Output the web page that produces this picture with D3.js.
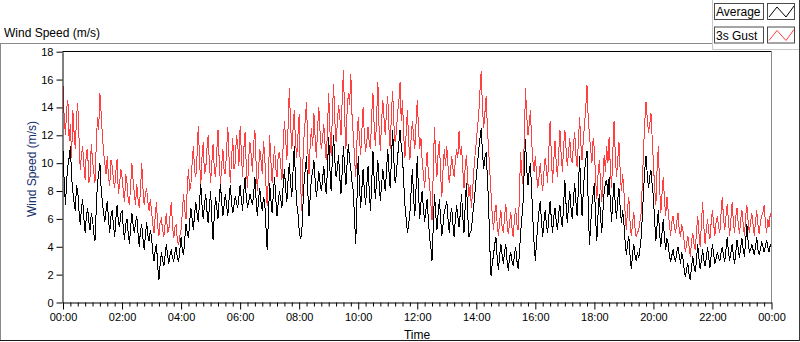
<!DOCTYPE html>
<html>
<head>
<meta charset="utf-8">
<script src="https://cdn.jsdelivr.net/npm/d3@7"></script>
<style>
  body { margin: 0; background: #fff; }
  svg { display: block; font-family: "Liberation Sans", Arial, sans-serif; }
</style>
</head>
<body>
<div id="chart"></div>
<script>
// 2.5 minute samples, 00:00 .. 24:00 (one row = half an hour)
const stepMinutes = 2.5;

const gust = [
    15.6, 13.2, 12.0, 14.0, 14.5, 11.6, 12.8, 10.4, 13.8, 12.2, 11.0, 13.4,
    14.3, 11.8, 9.5, 10.6, 11.2, 9.8, 8.8, 10.9, 11.0, 8.6, 9.0, 11.4,
    10.2, 9.4, 8.6, 11.2, 13.3, 12.4, 15.0, 13.6, 12.0, 10.8, 10.0, 9.2,
    10.5, 9.0, 8.4, 10.2, 9.8, 8.8, 8.2, 9.4, 10.3, 7.8, 8.5, 9.6,
    9.0, 8.0, 7.2, 9.2, 8.6, 7.4, 7.0, 8.4, 10.0, 8.8, 7.8, 7.0,
    8.5, 7.4, 6.8, 8.0, 10.0, 8.2, 7.0, 7.8, 8.2, 7.2, 6.6, 7.4,
    6.6, 5.6, 5.0, 6.2, 7.2, 5.4, 4.8, 5.8, 6.0, 5.2, 4.7, 5.6,
    6.4, 5.0, 5.2, 6.2, 7.2, 5.6, 4.6, 5.4, 5.6, 4.4, 4.1, 4.8,
    5.2, 6.4, 7.8, 6.6, 6.0, 8.2, 9.6, 8.0, 8.5, 10.0, 11.2, 9.4,
    9.0, 10.6, 12.7, 10.2, 8.4, 10.4, 11.5, 9.2, 9.5, 11.0, 12.0, 10.0,
    8.6, 10.0, 11.4, 9.6, 9.0, 10.8, 12.4, 10.2, 8.5, 9.8, 11.0, 9.4,
    9.2, 11.0, 12.6, 10.4, 8.6, 10.2, 11.8, 9.6, 10.0, 12.0, 11.5, 9.8,
    12.7, 10.8, 9.0, 11.0, 12.2, 9.8, 8.2, 10.4, 11.5, 10.6, 9.4, 11.4,
    12.4, 10.0, 8.0, 9.6, 11.0, 10.2, 9.2, 11.6, 10.5, 8.4, 6.9, 9.0,
    12.0, 10.2, 8.6, 10.0, 11.2, 9.6, 9.0, 10.6, 10.8, 9.8, 8.8, 11.4,
    13.0, 11.8, 10.2, 12.6, 15.4, 12.8, 11.0, 12.4, 13.8, 11.6, 10.4, 12.0,
    13.5, 9.0, 6.6, 10.0, 12.0, 13.2, 14.4, 11.0, 9.2, 11.4, 12.5, 11.2,
    13.6, 11.8, 10.4, 12.6, 14.0, 12.2, 11.0, 11.8, 12.8, 11.4, 10.2, 12.4,
    15.0, 12.4, 10.5, 13.6, 15.7, 13.0, 11.5, 12.8, 14.2, 13.4, 12.0, 14.6,
    16.7, 13.2, 11.0, 13.8, 15.0, 14.2, 16.4, 13.4, 12.0, 10.4, 9.0, 11.6,
    13.3, 11.8, 10.6, 12.4, 14.0, 12.0, 10.8, 11.6, 12.6, 11.4, 11.0, 13.6,
    15.0, 12.6, 11.2, 13.4, 15.8, 12.4, 10.9, 13.0, 14.5, 13.2, 12.0, 13.8,
    14.8, 12.4, 11.0, 13.6, 15.2, 12.8, 11.5, 12.2, 13.6, 14.4, 15.8, 13.0,
    14.5, 12.0, 10.4, 12.2, 13.8, 11.6, 10.2, 11.8, 13.0, 12.0, 11.0, 12.8,
    14.5, 12.6, 11.0, 11.8, 10.2, 9.2, 8.2, 9.6, 10.8, 9.4, 8.5, 7.2,
    5.9, 9.4, 12.6, 10.4, 9.0, 10.8, 11.6, 9.2, 7.6, 9.6, 11.0, 9.8,
    11.2, 9.8, 8.6, 9.4, 10.5, 9.6, 9.0, 10.2, 11.0, 10.4, 12.3, 10.6,
    11.2, 9.6, 8.2, 9.8, 10.6, 8.8, 7.6, 8.4, 6.8, 8.0, 9.5, 10.6,
    11.5, 12.6, 13.5, 15.2, 16.6, 14.0, 12.5, 13.6, 14.8, 12.6, 11.0, 9.4,
    7.8, 6.2, 5.2, 6.4, 7.0, 5.6, 4.8, 5.8, 6.6, 5.4, 5.0, 6.2,
    7.1, 5.8, 4.9, 5.6, 6.5, 5.4, 4.7, 6.0, 6.8, 5.6, 5.2, 7.4,
    10.8, 9.2, 8.5, 11.6, 15.4, 13.4, 12.0, 12.8, 13.8, 11.6, 10.2, 9.4,
    10.5, 9.2, 8.2, 9.0, 10.0, 8.8, 8.0, 9.4, 10.4, 9.6, 8.6, 11.0,
    13.0, 10.6, 8.6, 10.2, 11.6, 10.0, 9.0, 10.8, 12.4, 10.6, 9.4, 11.2,
    12.4, 11.0, 9.8, 10.8, 11.8, 10.4, 10.0, 11.4, 12.2, 10.6, 9.7, 11.6,
    13.3, 11.4, 10.2, 11.6, 12.8, 14.0, 15.6, 13.2, 12.0, 11.0, 10.0, 11.8,
    11.0, 8.8, 7.4, 9.2, 10.2, 8.6, 7.2, 9.0, 10.6, 9.4, 11.2, 10.0,
    11.9, 9.6, 8.2, 10.8, 13.0, 10.6, 9.0, 10.2, 11.5, 9.4, 8.0, 9.2,
    8.0, 6.4, 5.2, 6.8, 7.6, 5.8, 4.8, 5.6, 6.5, 5.4, 4.7, 5.0,
    5.2, 5.8, 6.4, 8.6, 11.0, 13.0, 14.4, 13.2, 12.2, 12.8, 13.6, 11.8,
    10.0, 8.2, 7.0, 9.6, 11.2, 8.4, 6.4, 7.8, 9.0, 7.4, 6.2, 7.6,
    6.6, 5.6, 4.8, 5.8, 6.2, 5.4, 5.0, 5.8, 6.4, 5.2, 4.7, 5.6,
    5.2, 4.4, 3.6, 4.2, 4.8, 4.0, 3.3, 4.4, 5.0, 4.2, 3.8, 5.0,
    6.2, 5.0, 4.0, 5.6, 7.2, 5.4, 4.2, 5.2, 6.0, 5.0, 4.6, 5.8,
    6.6, 5.6, 4.8, 5.8, 6.2, 5.4, 5.0, 6.4, 7.6, 6.0, 5.2, 6.2,
    7.1, 5.8, 4.8, 6.0, 7.2, 5.8, 5.0, 6.2, 6.8, 5.6, 4.9, 6.0,
    6.6, 5.6, 4.8, 6.2, 7.0, 5.8, 5.0, 5.8, 6.4, 5.6, 4.8, 5.8,
    6.6, 5.6, 4.9, 5.8, 6.2, 6.4, 7.0, 5.8, 5.0, 6.0, 5.4, 6.4,
    6.0
];

const average = [
    10.9, 8.6, 7.0, 8.8, 9.8, 10.4, 11.2, 9.0, 8.0, 7.2, 6.6, 8.4,
    8.0, 6.6, 5.6, 6.8, 7.4, 6.0, 5.0, 6.2, 6.8, 5.8, 5.2, 6.4,
    6.0, 5.0, 4.4, 6.6, 8.6, 9.2, 10.0, 8.2, 7.2, 6.4, 5.8, 6.6,
    7.3, 6.0, 5.0, 6.2, 6.6, 5.6, 4.7, 6.0, 7.0, 5.8, 5.4, 6.4,
    6.6, 5.4, 4.5, 5.6, 6.0, 5.0, 4.2, 5.4, 6.4, 5.6, 5.0, 5.8,
    6.2, 5.0, 4.0, 5.2, 5.6, 4.6, 3.8, 4.8, 5.8, 4.8, 4.4, 5.2,
    4.7, 3.6, 3.0, 3.8, 4.2, 2.6, 1.6, 2.8, 3.6, 3.0, 2.6, 3.4,
    4.2, 3.4, 2.8, 3.4, 3.8, 3.2, 3.0, 3.6, 4.0, 3.2, 2.9, 3.8,
    4.7, 3.8, 3.4, 4.6, 5.6, 5.0, 4.6, 5.8, 6.8, 6.0, 5.2, 6.4,
    7.2, 6.4, 5.8, 7.2, 8.5, 7.0, 6.0, 7.0, 7.8, 6.6, 5.7, 6.8,
    8.0, 6.0, 4.5, 6.2, 7.6, 6.8, 6.0, 7.4, 8.5, 7.2, 6.2, 7.0,
    7.8, 7.0, 6.2, 7.4, 8.4, 7.2, 6.4, 7.0, 7.6, 7.2, 6.8, 7.6,
    8.4, 7.4, 6.6, 8.0, 9.0, 7.6, 6.8, 7.2, 7.8, 7.4, 7.0, 7.8,
    9.0, 7.4, 6.2, 7.4, 8.2, 7.2, 6.6, 7.6, 7.2, 5.4, 3.8, 6.0,
    8.6, 7.4, 6.4, 7.8, 9.0, 7.4, 6.2, 7.2, 8.0, 7.4, 6.8, 8.4,
    9.6, 8.2, 7.2, 8.8, 10.0, 8.6, 7.6, 9.4, 11.2, 8.8, 7.1, 6.4,
    5.2, 4.6, 4.8, 6.8, 8.6, 9.6, 10.5, 8.0, 6.2, 7.6, 9.0, 9.4,
    10.2, 8.8, 7.6, 8.4, 9.4, 8.6, 8.0, 8.8, 9.8, 8.6, 7.8, 9.6,
    11.9, 9.6, 8.0, 10.4, 12.0, 10.2, 9.0, 9.6, 10.6, 9.0, 7.8, 9.4,
    11.2, 9.6, 8.4, 10.0, 11.4, 10.2, 9.6, 8.6, 8.0, 6.0, 4.2, 7.4,
    10.5, 8.4, 6.8, 8.2, 9.6, 8.0, 7.0, 8.4, 9.8, 8.0, 6.6, 8.6,
    10.9, 8.8, 7.4, 9.0, 10.2, 8.6, 7.3, 8.4, 9.6, 8.8, 8.0, 9.4,
    11.0, 9.4, 8.2, 10.2, 12.4, 10.2, 8.6, 9.2, 10.4, 11.4, 12.4, 11.2,
    10.5, 8.6, 7.0, 6.0, 5.0, 5.6, 6.4, 8.0, 9.6, 7.6, 6.2, 8.2,
    10.5, 8.0, 6.0, 7.2, 8.0, 6.8, 5.8, 6.6, 7.4, 6.0, 4.7, 4.0,
    3.0, 5.4, 7.8, 6.4, 5.2, 6.4, 7.4, 6.0, 4.8, 5.6, 6.6, 6.8,
    7.3, 6.0, 5.0, 6.2, 6.8, 5.6, 4.7, 6.0, 7.0, 6.2, 5.4, 6.4,
    7.8, 6.2, 5.0, 7.0, 8.6, 6.4, 4.7, 5.0, 5.2, 6.2, 7.0, 8.0,
    9.0, 10.0, 11.0, 11.8, 12.5, 10.8, 9.6, 10.4, 10.8, 9.0, 7.1, 4.0,
    1.9, 2.8, 3.4, 4.2, 4.7, 3.2, 2.3, 3.4, 4.2, 3.4, 2.8, 3.6,
    4.2, 3.0, 2.3, 3.2, 3.6, 3.0, 2.6, 3.4, 4.0, 3.0, 2.4, 3.4,
    5.0, 6.0, 7.2, 9.6, 11.7, 9.6, 8.4, 9.4, 10.0, 8.0, 6.0, 4.2,
    3.0, 4.4, 5.6, 6.6, 7.3, 5.8, 4.7, 5.8, 6.6, 5.6, 5.0, 6.2,
    7.3, 6.0, 5.0, 6.2, 6.8, 5.8, 5.2, 6.4, 7.0, 6.0, 5.4, 7.0,
    8.8, 7.0, 5.7, 7.0, 8.0, 6.8, 6.0, 7.4, 8.6, 7.2, 6.2, 8.2,
    10.5, 8.0, 6.2, 8.0, 9.4, 10.2, 10.9, 7.0, 4.1, 5.6, 7.0, 7.8,
    8.6, 6.0, 4.4, 6.4, 7.8, 6.2, 5.0, 6.6, 8.0, 8.6, 8.8, 7.6,
    9.0, 7.2, 5.8, 7.4, 8.6, 7.0, 6.0, 7.4, 8.2, 6.8, 5.7, 6.6,
    5.7, 4.4, 3.4, 4.2, 4.8, 3.4, 2.4, 3.4, 4.2, 3.4, 3.0, 3.6,
    3.2, 3.8, 4.6, 6.2, 8.0, 9.6, 10.5, 9.2, 8.2, 9.0, 9.5, 8.4,
    7.6, 5.8, 4.4, 5.6, 6.6, 5.0, 4.0, 5.0, 6.0, 4.6, 3.8, 4.6,
    4.2, 3.4, 2.9, 3.4, 3.8, 3.2, 3.0, 3.6, 4.0, 3.4, 2.8, 3.6,
    3.2, 2.4, 1.8, 2.4, 2.8, 2.0, 1.6, 2.6, 3.3, 2.6, 2.2, 3.0,
    4.2, 3.2, 2.4, 3.0, 3.8, 3.0, 2.6, 3.2, 4.0, 3.2, 2.5, 3.4,
    4.2, 3.4, 2.8, 3.2, 3.6, 3.2, 3.0, 3.6, 4.0, 3.4, 2.9, 3.8,
    4.7, 3.6, 3.0, 3.6, 4.2, 3.4, 2.8, 3.6, 4.5, 3.8, 3.2, 4.0,
    4.6, 3.8, 3.3, 4.4, 5.6, 4.4, 3.6, 3.8, 4.2, 3.8, 3.4, 4.0,
    4.7, 3.8, 3.4, 3.8, 4.4, 4.0, 3.6, 4.0, 4.5, 4.0, 3.6, 4.2,
    3.8
];

const xTickLabels = ["00:00", "02:00", "04:00", "06:00", "08:00", "10:00", "12:00",
    "14:00", "16:00", "18:00", "20:00", "22:00", "00:00"];
const yTicks = [0, 2, 4, 6, 8, 10, 12, 14, 16, 18];
const seriesNames = ["Average", "3s Gust"];
const seriesColors = ["#000000", "#ff4040"];

const width = 800, height = 342;
const plot = { left: 62.5, right: 771.5, top: 51.5, bottom: 302.5 };

const svg = d3.select("#chart").append("svg")
    .attr("width", width)
    .attr("height", height);

// Outer graph frame (LabVIEW style)
svg.append("line").attr("x1", 0).attr("x2", 712).attr("y1", 43.5).attr("y2", 43.5)
    .attr("stroke", "#8a8a8a");
svg.append("line").attr("x1", 0.5).attr("x2", 0.5).attr("y1", 43.5).attr("y2", 341)
    .attr("stroke", "#8a8a8a");
svg.append("line").attr("x1", 0).attr("x2", 800).attr("y1", 340.5).attr("y2", 340.5)
    .attr("stroke", "#1a1a1a");
svg.append("line").attr("x1", 799.5).attr("x2", 799.5).attr("y1", 0).attr("y2", 341)
    .attr("stroke", "#3a3a3a");

// Legend panel border
svg.append("line").attr("x1", 712.5).attr("x2", 712.5).attr("y1", 0).attr("y2", 49.5)
    .attr("stroke", "#c8c8c8");
svg.append("line").attr("x1", 712.5).attr("x2", 799).attr("y1", 49.5).attr("y2", 49.5)
    .attr("stroke", "#c8c8c8");

// Graph caption
svg.append("text")
    .attr("x", 4)
    .attr("y", 37)
    .style("font-size", "12px")
    .attr("fill", "#000")
    .text("Wind Speed (m/s)");

// Scales
const x = d3.scaleLinear().domain([0, 24 * 60]).range([63, 771.5]);
const y = d3.scaleLinear().domain([0, 18]).range([302.5, 51.7]);

// Plot area
svg.append("rect")
    .attr("x", plot.left).attr("y", plot.top)
    .attr("width", plot.right - plot.left).attr("height", plot.bottom - plot.top)
    .attr("fill", "#fff");

svg.append("clipPath").attr("id", "clip")
    .append("rect")
    .attr("x", plot.left).attr("y", plot.top)
    .attr("width", plot.right - plot.left).attr("height", plot.bottom - plot.top);

const line = d3.line()
    .x((d, i) => x(i * stepMinutes))
    .y(d => y(d));

// LabVIEW draws its plots without anti-aliasing
const lines = svg.append("g")
    .attr("clip-path", "url(#clip)")
    .attr("shape-rendering", "crispEdges");

lines.append("path")
    .datum(gust)
    .attr("d", line)
    .attr("fill", "none")
    .attr("stroke", seriesColors[1])
    .attr("stroke-width", 1);

lines.append("path")
    .datum(average)
    .attr("d", line)
    .attr("fill", "none")
    .attr("stroke", seriesColors[0])
    .attr("stroke-width", 1);

// Plot borders
svg.append("line").attr("x1", plot.left).attr("x2", plot.right).attr("y1", plot.top).attr("y2", plot.top)
    .attr("stroke", "#000");
svg.append("line").attr("x1", plot.right).attr("x2", plot.right).attr("y1", plot.top).attr("y2", plot.bottom)
    .attr("stroke", "#8a8a8a");

// Y axis
const yAxis = d3.axisLeft(y)
    .tickValues(yTicks)
    .tickSize(6)
    .tickPadding(3)
    .tickSizeOuter(0);

const gy = svg.append("g")
    .attr("transform", "translate(" + plot.left + ",0)")
    .call(yAxis);
gy.selectAll("text").style("font-size", "11px").attr("fill", "#000");
gy.selectAll("line, path").attr("stroke", "#000");

// X axis: majors every 2 hours, minors every 15 minutes
const majorValues = xTickLabels.map((d, i) => i * 120);
const minorValues = d3.range(0, 24 * 60 + 1, 15).filter(v => v % 120 !== 0);

const gxMinor = svg.append("g")
    .attr("transform", "translate(0," + plot.bottom + ")")
    .call(d3.axisBottom(x).tickValues(minorValues).tickSize(4).tickFormat("").tickSizeOuter(0));
gxMinor.selectAll("line").attr("stroke", "#000");
gxMinor.select(".domain").attr("stroke", "#000");

const gx = svg.append("g")
    .attr("transform", "translate(0," + plot.bottom + ")")
    .call(d3.axisBottom(x)
        .tickValues(majorValues)
        .tickSize(7)
        .tickPadding(4)
        .tickSizeOuter(0)
        .tickFormat((d, i) => xTickLabels[i]));
gx.select(".domain").remove();
gx.selectAll("line").attr("stroke", "#000");
gx.selectAll("text").style("font-size", "11px").attr("fill", "#000");

// Axis titles
svg.append("text")
    .attr("transform", "translate(36,169) rotate(-90)")
    .attr("text-anchor", "middle")
    .style("font-size", "12px")
    .attr("fill", "#16306e")
    .text("Wind Speed (m/s)");

svg.append("text")
    .attr("x", 417)
    .attr("y", 339)
    .attr("text-anchor", "middle")
    .style("font-size", "12px")
    .attr("fill", "#000")
    .text("Time");

// Legend
const legend = svg.append("g")
    .selectAll("g")
    .data(seriesNames)
    .enter().append("g")
    .attr("transform", (d, i) => "translate(0," + (i * 23.5) + ")");

legend.append("rect")
    .attr("x", 714.5).attr("y", 3.5)
    .attr("width", 49).attr("height", 16)
    .attr("fill", "#fff")
    .attr("stroke", "#4a4a4a");

legend.append("text")
    .attr("x", 716)
    .attr("y", 16)
    .style("font-size", "12px")
    .attr("fill", "#000")
    .text(d => d);

legend.append("rect")
    .attr("x", 767.5).attr("y", 3.5)
    .attr("width", 27).attr("height", 16)
    .attr("fill", "#fff")
    .attr("stroke", "#4a4a4a");

legend.append("polyline")
    .attr("points", "769,17 777,7 786,17 794,6")
    .attr("fill", "none")
    .attr("stroke", (d, i) => seriesColors[i])
    .attr("stroke-width", 1);
</script>
</body>
</html>
